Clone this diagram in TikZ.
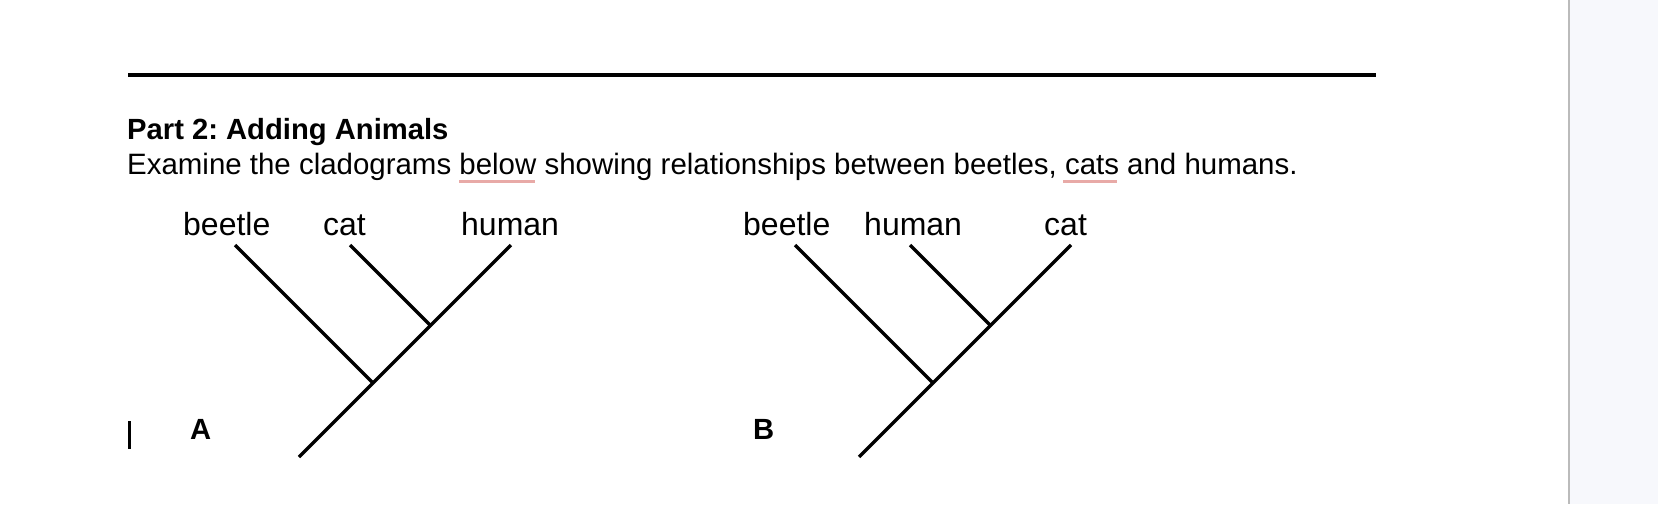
\documentclass[tikz,border=0pt]{standalone}
\usepackage{fontspec}
\setmainfont{Liberation Sans}
\definecolor{panelbg}{HTML}{F7F8FC}
\definecolor{divider}{HTML}{BBBBBB}
\definecolor{spell}{HTML}{E8AAA7}
\frenchspacing
\begin{document}
\begin{tikzpicture}[x=1pt,y=-1pt,
  txt/.style={inner sep=0pt,anchor=base west,font=\fontsize{29.45}{34}\selectfont},
  lbl/.style={inner sep=0pt,anchor=base west,font=\fontsize{32}{36}\selectfont},
  ttl/.style={txt,font=\fontsize{29.2}{34}\selectfont\bfseries},
  branch/.style={line width=3.5pt,black},
  squiggle/.style={line width=3.6pt,spell}]
\useasboundingbox (0,0) rectangle (1658,504);
\fill[white] (0,0) rectangle (1569,504);
\fill[panelbg] (1569,0) rectangle (1658,504);
\draw[divider,line width=2pt] (1569,0) -- (1569,504);
% rule
\coordinate (r1) at (128,75);
\coordinate (r2) at (1376,75);
\draw[line width=3.2pt] (r1) -- (r2);
% heading
\node[ttl] (title) at (127,139.5) {Part 2: Adding Animals};
\node[txt] (body) at (127,174.5) {Examine the cladograms below showing relationships between beetles, cats and humans.};
\draw[squiggle] (459,181.5) -- (535,181.5);
\draw[squiggle] (1063,181.5) -- (1117,181.5);
% cursor
\coordinate (c1) at (129,421);
\coordinate (c2) at (129,449);
\draw[line width=3pt] (c1) -- (c2);
% Tree A
\node[lbl] (aBeetle) at (183,235) {beetle};
\node[lbl] (aCat) at (323,235) {cat};
\node[lbl] (aHuman) at (461,235) {human};
\node[ttl] (labA) at (190,439) {A};
\coordinate (aT1) at (235,245);
\coordinate (aT2) at (350,245);
\coordinate (aT3) at (511,245);
\coordinate (aJ1) at (373,383);
\coordinate (aJ2) at (430.5,325.5);
\coordinate (aRoot) at (299,457);
\draw[branch] (aT3) -- (aRoot);
\draw[branch] (aT1) -- (aJ1);
\draw[branch] (aT2) -- (aJ2);
% Tree B
\node[lbl] (bBeetle) at (743,235) {beetle};
\node[lbl] (bHuman) at (864,235) {human};
\node[lbl] (bCat) at (1044,235) {cat};
\node[ttl] (labB) at (753,439) {B};
\coordinate (bT1) at (795,245);
\coordinate (bT2) at (910,245);
\coordinate (bT3) at (1071,245);
\coordinate (bJ1) at (933,383);
\coordinate (bJ2) at (990.5,325.5);
\coordinate (bRoot) at (859,457);
\draw[branch] (bT3) -- (bRoot);
\draw[branch] (bT1) -- (bJ1);
\draw[branch] (bT2) -- (bJ2);
\end{tikzpicture}
\end{document}
